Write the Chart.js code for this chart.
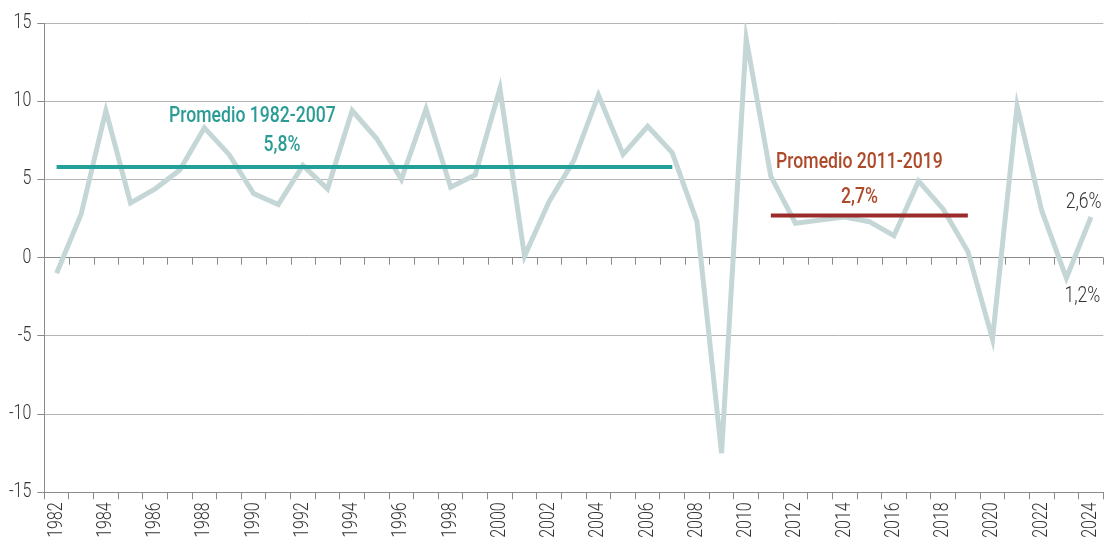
<!DOCTYPE html>
<html>
<head>
<meta charset="utf-8">
<script src="https://cdn.jsdelivr.net/npm/chart.js@4.4.1/dist/chart.umd.min.js"></script>
<style>
  html, body { margin: 0; padding: 0; background: #ffffff; }
  #wrap { width: 1105px; height: 544px; }
</style>
</head>
<body>
<div id="wrap"><canvas id="chart" width="1105" height="544"></canvas></div>
<script>
const FONT = "Roboto, 'DejaVu Sans Condensed', sans-serif";
const SQUEEZE = 0.8; // the original uses a condensed face

// data
const years = [
  1982, 1983, 1984, 1985, 1986, 1987, 1988, 1989, 1990, 1991,
  1992, 1993, 1994, 1995, 1996, 1997, 1998, 1999, 2000, 2001,
  2002, 2003, 2004, 2005, 2006, 2007, 2008, 2009, 2010, 2011,
  2012, 2013, 2014, 2015, 2016, 2017, 2018, 2019, 2020, 2021,
  2022, 2023, 2024,
];
const growth = [
  -1.0, 2.8, 9.4, 3.5, 4.4, 5.6, 8.3, 6.6, 4.1, 3.4,
  5.9, 4.4, 9.4, 7.6, 5.0, 9.5, 4.5, 5.3, 10.8, 0.1,
  3.6, 6.2, 10.4, 6.6, 8.4, 6.7, 2.3, -12.5, 14.0, 5.2,
  2.2, 2.4, 2.6, 2.3, 1.4, 4.9, 3.1, 0.4, -5.2, 9.7,
  3.0, -1.3, 2.6,
];
const yTicks = [-15, -10, -5, 0, 5, 10, 15];

// averages: [from, to, value]
const avgEarly = [1982, 2007, 5.8];
const avgLate = [2011, 2019, 2.7];

const avgLine = (a) => years.map((y) => (y >= a[0] && y <= a[1] ? a[2] : null));

// text notes: label, year position, value position
const notes = [
  { text: "Promedio 1982-2007", year: 1989.95, value: 8.68, color: "#2a9c95", weight: "500" },
  { text: "5,8%", year: 1991.15, value: 6.8, color: "#2a9c95", weight: "500" },
  { text: "Promedio 2011-2019", year: 2014.6, value: 5.74, color: "#ad4a2a", weight: "500" },
  { text: "2,7%", year: 2014.6, value: 3.47, color: "#ad4a2a", weight: "500" },
  { text: "2,6%", year: 2023.7, value: 3.2, color: "#333333", weight: "300" },
  { text: "1,2%", year: 2023.65, value: -2.83, color: "#333333", weight: "300" },
];

const condensePlugin = {
  id: "condense",
  beforeInit(chart) {
    const ctx = chart.ctx;
    const fill = ctx.fillText;
    ctx.fillText = function (text, x, y, maxWidth) {
      this.save();
      this.translate(x, y);
      this.scale(SQUEEZE, 1);
      if (maxWidth === undefined) fill.call(this, text, 0, 0);
      else fill.call(this, text, 0, 0, maxWidth / SQUEEZE);
      this.restore();
    };
  },
};

const notesPlugin = {
  id: "notes",
  beforeDatasetsDraw(chart) {
    // tick marks hanging under the zero line
    const { ctx } = chart;
    const x = chart.scales.x;
    const y0 = chart.scales.y.getPixelForValue(0);
    const step = x.getPixelForValue(1) - x.getPixelForValue(0);
    ctx.save();
    ctx.strokeStyle = "#8a8a8a";
    ctx.lineWidth = 1;
    ctx.beginPath();
    for (let i = 0; i < years.length; i++) {
      const px = Math.round(x.getPixelForValue(i) + step / 2) + 0.5;
      ctx.moveTo(px, y0);
      ctx.lineTo(px, y0 + 7);
    }
    ctx.stroke();
    ctx.restore();
  },
  afterDatasetsDraw(chart) {
    const { ctx } = chart;
    const x = chart.scales.x;
    const y = chart.scales.y;
    const step = x.getPixelForValue(1) - x.getPixelForValue(0);
    ctx.save();
    ctx.textAlign = "center";
    ctx.textBaseline = "alphabetic";
    notes.forEach((n) => {
      ctx.font = n.weight + " 22px " + FONT;
      ctx.fillStyle = n.color;
      const px = x.getPixelForValue(0) + (n.year - years[0]) * step;
      ctx.fillText(n.text, px, y.getPixelForValue(n.value));
    });
    ctx.restore();
  },
};

new Chart(document.getElementById("chart"), {
  type: "line",
  plugins: [condensePlugin, notesPlugin],
  data: {
    labels: years.map(String),
    datasets: [
      {
        data: avgLine(avgEarly),
        borderColor: "#22a09a",
        borderWidth: 4,
        borderCapStyle: "butt",
        pointRadius: 0,
        spanGaps: false,
      },
      {
        data: avgLine(avgLate),
        borderColor: "#9b2b2b",
        borderWidth: 4,
        borderCapStyle: "butt",
        pointRadius: 0,
        spanGaps: false,
      },
      {
        data: growth,
        borderColor: "#c4d6d6",
        borderWidth: 5,
        borderJoinStyle: "miter",
        tension: 0,
        pointRadius: 0,
      },
    ],
  },
  options: {
    responsive: false,
    animation: false,
    devicePixelRatio: 1,
    layout: { padding: { top: 23, left: 0, right: 1.7, bottom: 0 } },
    plugins: {
      legend: { display: false },
      tooltip: { enabled: false },
    },
    scales: {
      x: {
        offset: true,
        grid: {
          offset: true,
          drawOnChartArea: false,
          drawTicks: true,
          tickLength: 7,
          color: "#8a8a8a",
        },
        border: { display: true, color: "#8a8a8a" },
        ticks: {
          autoSkip: false,
          minRotation: 90,
          maxRotation: 90,
          padding: 3,
          color: "#333333",
          font: { family: FONT, size: 20, weight: "300" },
          callback: (v, i) => (years[i] % 2 === 0 ? String(years[i]) : ""),
        },
        afterFit: (s) => {
          s.height = 51.7;
          s.paddingLeft = 0;
          s.paddingRight = 0;
        },
      },
      y: {
        min: -15,
        max: 15,
        afterBuildTicks: (s) => { s.ticks = yTicks.map((v) => ({ value: v })); },
        grid: {
          color: (c) => (c.tick && c.tick.value === 0 ? "#8a8a8a" : "#b4b4b4"),
          tickLength: 7,
          tickColor: "#8a8a8a",
        },
        border: { display: true, color: "#8a8a8a" },
        ticks: {
          padding: 6,
          color: "#333333",
          font: { family: FONT, size: 20, weight: "300" },
          callback: (v) => String(v),
        },
        afterFit: (s) => { s.width = 44.3; },
      },
    },
  },
});
</script>
</body>
</html>
